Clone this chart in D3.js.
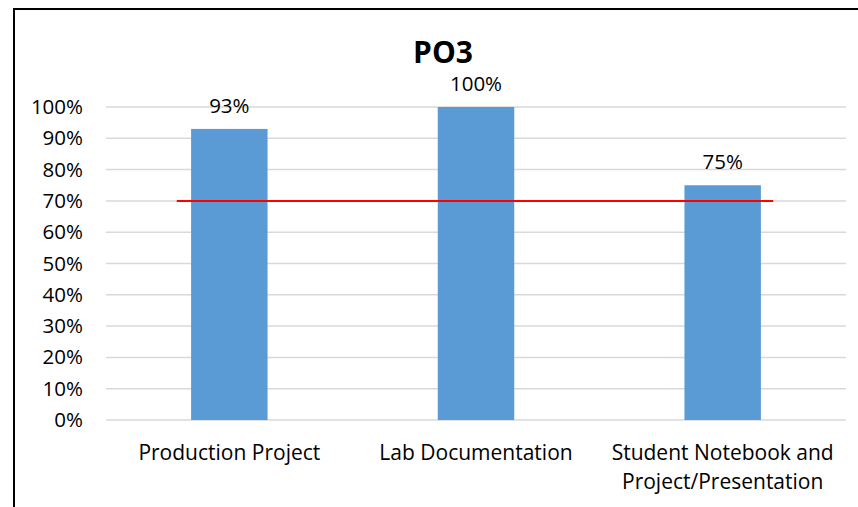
<!DOCTYPE html>
<html lang="en">
<head>
    <meta charset="UTF-8">
    <title>PO3</title>
    <script src="https://d3js.org/d3.v7.min.js"></script>
    <style>
        body { margin: 0; background: #fff; }
        text { font-family: "Open Sans", sans-serif; fill: #000; }
    </style>
</head>
<body>
<div class="chart"></div>
<script>
    // chart data
    const categories = ["Production Project", "Lab Documentation", "Student Notebook and Project/Presentation"];
    const scores = [0.93, 1.00, 0.75];
    const target = 0.70;
    const yTicks = [0, 0.1, 0.2, 0.3, 0.4, 0.5, 0.6, 0.7, 0.8, 0.9, 1.0];

    const W = 858, H = 507;
    const plot = { left: 106, right: 846, top: 107, bottom: 420 };

    const svg = d3.select(".chart")
        .append("svg")
        .attr("width", W)
        .attr("height", H);

    // chart frame (right/bottom edges fall outside the picture)
    svg.append("path")
        .attr("d", `M14,${H} L14,9 L${W},9`)
        .attr("fill", "none")
        .attr("stroke", "#000")
        .attr("stroke-width", 2);

    const x = d3.scaleBand()
        .domain(categories)
        .range([plot.left, plot.right])
        .paddingInner(0.69)
        .paddingOuter(0.345);

    const y = d3.scaleLinear()
        .domain([0, 1])
        .range([plot.bottom, plot.top]);

    // gridlines
    svg.append("g")
        .selectAll("line")
        .data(yTicks)
        .join("line")
        .attr("x1", plot.left)
        .attr("x2", plot.right)
        .attr("y1", d => y(d))
        .attr("y2", d => y(d))
        .attr("stroke", "#d9d9d9")
        .attr("stroke-width", 1.5);

    // y axis labels
    const yAxis = svg.append("g")
        .attr("transform", `translate(${plot.left},0)`)
        .call(d3.axisLeft(y).tickValues(yTicks).tickFormat(d3.format(".0%")).tickSize(0).tickPadding(23));
    yAxis.select(".domain").remove();
    yAxis.selectAll("text")
        .style("font-family", '"Open Sans", sans-serif')
        .style("font-size", "20.5px")
        .attr("fill", "#000");

    // bars
    svg.append("g")
        .selectAll("rect")
        .data(scores)
        .join("rect")
        .attr("x", (d, i) => x(categories[i]))
        .attr("y", d => y(d))
        .attr("width", x.bandwidth())
        .attr("height", d => y(0) - y(d))
        .attr("fill", "#5b9bd5");

    // value labels
    svg.append("g")
        .selectAll("text")
        .data(scores)
        .join("text")
        .attr("x", (d, i) => x(categories[i]) + x.bandwidth() / 2)
        .attr("y", d => y(d) - 16)
        .attr("text-anchor", "middle")
        .style("font-size", "20.5px")
        .text(d => d3.format(".0%")(d));

    // target line
    const step = x.step();
    const tStart = x(categories[0]) + x.bandwidth() / 2 - step * 0.213;
    const tEnd = x(categories[categories.length - 1]) + x.bandwidth() / 2 + step * 0.205;
    svg.append("line")
        .attr("x1", tStart)
        .attr("x2", tEnd)
        .attr("y1", y(target))
        .attr("y2", y(target))
        .attr("stroke", "#ff0000")
        .attr("stroke-width", 2);

    // x axis labels, wrapped to the band
    const xAxis = svg.append("g")
        .attr("transform", `translate(0,${plot.bottom})`)
        .call(d3.axisBottom(x).tickSize(0).tickPadding(25));
    xAxis.select(".domain").remove();
    xAxis.selectAll("text")
        .style("font-family", '"Open Sans", sans-serif')
        .style("font-size", "21px")
        .attr("fill", "#000")
        .call(wrap, step - 10);

    function wrap(sel, width) {
        sel.each(function () {
            const t = d3.select(this);
            const words = t.text().split(/\s+/);
            const y0 = t.attr("y"), dy = parseFloat(t.attr("dy")) || 0;
            t.text(null);
            let line = [], lineNo = 0;
            let tspan = t.append("tspan").attr("x", 0).attr("y", y0).attr("dy", dy + "em");
            words.forEach(w => {
                line.push(w);
                tspan.text(line.join(" "));
                if (tspan.node().getComputedTextLength() > width && line.length > 1) {
                    line.pop();
                    tspan.text(line.join(" "));
                    line = [w];
                    tspan = t.append("tspan").attr("x", 0).attr("y", y0)
                        .attr("dy", (++lineNo * 1.4 + dy) + "em").text(w);
                }
            });
        });
    }

    // title
    svg.append("text")
        .attr("x", 443)
        .attr("y", 63)
        .attr("text-anchor", "middle")
        .style("font-size", "30px")
        .style("font-weight", "bold")
        .text("PO3");
</script>
</body>
</html>
